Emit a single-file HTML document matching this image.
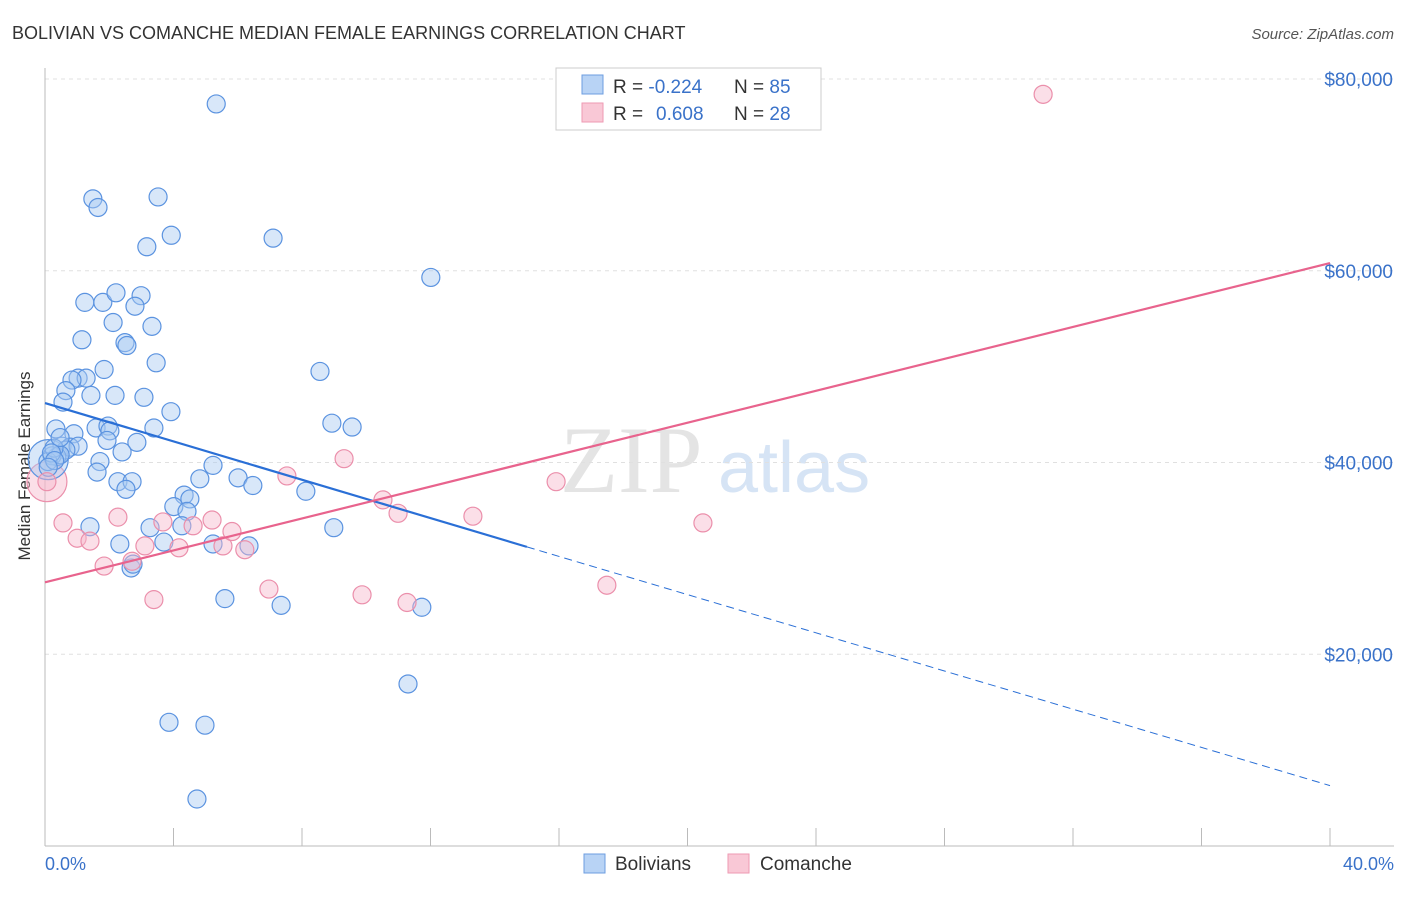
<!DOCTYPE html>
<html><head><meta charset="utf-8"><style>
body{margin:0;background:#fff;width:1406px;height:892px;overflow:hidden;font-family:"Liberation Sans",sans-serif}
</style></head><body>
<svg width="1406" height="892" xmlns="http://www.w3.org/2000/svg" font-family="Liberation Sans, sans-serif">
<text x="12" y="39" font-size="18" fill="#333">BOLIVIAN VS COMANCHE MEDIAN FEMALE EARNINGS CORRELATION CHART</text>
<text x="1394" y="39" font-size="15" fill="#555" font-style="italic" text-anchor="end">Source: ZipAtlas.com</text>
<text x="560" y="492" font-size="95" fill="#e4e4e4" font-family="Liberation Serif, serif">ZIP</text>
<text x="718" y="492" font-size="72" fill="#d6e4f5">atlas</text>
<g id="grid"></g>
<line x1="45" y1="68" x2="45" y2="846" stroke="#bbb"/>
<line x1="45" y1="846" x2="1394" y2="846" stroke="#bbb"/>
<g id="ticks"></g>
<text x="20" y="456" font-size="17" fill="#333" transform="rotate(-90 30 456)" text-anchor="middle">Median Female Earnings</text>
<text x="45" y="870" font-size="18" fill="#3a72c9">0.0%</text>
<text x="1394" y="870" font-size="18" fill="#3a72c9" text-anchor="end">40.0%</text>
<g id="pts"></g>
<g id="lines"></g>
<g>
<rect x="556" y="68" width="265" height="62" fill="#fff" stroke="#ccc"/>
<rect x="582" y="75" width="21" height="19" fill="#b8d3f5" stroke="#6d9ee0"/>
<rect x="582" y="103" width="21" height="19" fill="#f9c8d6" stroke="#ee9ab3"/>
<text x="613" y="93" font-size="19" fill="#333">R = <tspan fill="#3a72c9">-0.224</tspan><tspan x="734">N = </tspan><tspan fill="#3a72c9">85</tspan></text>
<text x="613" y="120" font-size="19" fill="#333">R = <tspan x="656" fill="#3a72c9">0.608</tspan><tspan x="734">N = </tspan><tspan fill="#3a72c9">28</tspan></text>
</g>
<g>
<rect x="584" y="854" width="21" height="19" fill="#b8d3f5" stroke="#6d9ee0"/>
<text x="615" y="870" font-size="19" fill="#333">Bolivians</text>
<rect x="728" y="854" width="21" height="19" fill="#f9c8d6" stroke="#ee9ab3"/>
<text x="760" y="870" font-size="19" fill="#333">Comanche</text>
</g>
</svg>
<script>
const yTicks=[20000,40000,60000,80000];
const yTickLabels=["$20,000","$40,000","$60,000","$80,000"];
const xTicks=[0,4,8,12,16,20,24,28,32,36,40];
const blueX=[5.33,1.49,1.65,3.52,3.93,3.17,7.10,12.01,1.24,1.80,2.21,2.99,2.80,2.12,3.33,1.15,2.49,2.55,3.46,1.84,8.56,1.03,1.28,0.84,0.65,1.43,2.18,3.08,0.56,3.92,0.34,1.59,1.96,2.02,3.39,8.93,9.56,0.90,1.93,2.86,0.53,0.78,1.03,0.65,2.40,0.37,1.71,0.22,0.47,0.09,1.62,5.23,2.27,2.71,6.01,2.52,6.47,4.82,4.33,4.51,8.12,4.01,4.42,3.27,4.26,8.99,1.40,3.70,5.23,6.35,2.33,2.68,2.74,5.60,7.35,11.73,11.30,3.86,4.98,4.73,0.28,0.47,0.2,0.3,0.1];
const blueY=[77400,67500,66600,67700,63700,62500,63400,59300,56700,56700,57700,57400,56300,54600,54200,52800,52500,52200,50400,49700,49500,48800,48800,48600,47500,47000,47000,46800,46300,45300,43500,43600,43800,43300,43600,44100,43700,43000,42300,42100,41700,41600,41700,41300,41100,40600,40100,40700,40800,40100,39000,39700,38000,38000,38400,37200,37600,38300,36600,36200,37000,35400,34900,33200,33400,33200,33300,31700,31500,31300,31500,29000,29400,25800,25100,24900,16900,12900,12600,4900,41500,42600,41000,40200,39500];
const pinkX=[31.07,0.56,1.00,1.40,2.27,1.84,3.67,3.11,4.17,4.61,5.20,5.54,5.82,6.22,3.39,7.53,6.97,9.31,9.87,10.52,10.99,11.27,13.32,15.91,17.49,20.48,0.06,2.71];
const pinkY=[78400,33700,32100,31800,34300,29200,33800,31300,31100,33400,34000,31300,32800,30900,25700,38600,26800,40400,26200,36100,34700,25400,34400,38000,27200,33700,38000,29700];
const bigBlue={x:0.1,y:40300},bigPink={x:0.06,y:38000};
const blueLine=[0,46200,15,31200,40,6300];
const pinkLine=[0,27500,40,60800];
const X=v=>45+v/40*1285, Y=v=>846-v/20000*191.75;
const NS="http://www.w3.org/2000/svg";
function mk(t,a,p){const e=document.createElementNS(NS,t);for(const k in a)e.setAttribute(k,a[k]);p.appendChild(e);return e;}
const grid=document.getElementById('grid'),ticks=document.getElementById('ticks'),pts=document.getElementById('pts'),lines=document.getElementById('lines');
yTicks.forEach((v,i)=>{
 const l=mk('line',{x1:45,x2:1394,y1:Y(v),y2:Y(v),stroke:'#e0e0e0','stroke-dasharray':'4 4'},grid);
 
 
 const t=mk('text',{x:1393,y:Y(v)+7,'font-size':19,fill:'#3a72c9','text-anchor':'end'},ticks);
 t.textContent=yTickLabels[i];
 
 
});
xTicks.forEach(v=>{
 const l=mk('line',{x1:X(v),x2:X(v),y1:828,y2:846,stroke:'#bbb'},ticks);
 
 
});
function dot(x,y,r,fill,stroke,name){
 const c=mk('circle',{cx:X(x),cy:Y(y),r:r,fill:fill,'fill-opacity':0.45,stroke:stroke,'stroke-width':1.2},pts);
 
 
}
dot(bigPink.x,bigPink.y,20,'#f7b9cb','#eb8fab','comanche-point');
dot(bigBlue.x,bigBlue.y,20,'#a9c9f2','#5b93e0','bolivian-point');
blueX.forEach((x,i)=>dot(x,blueY[i],9,'#a9c9f2','#5b93e0','bolivian-point'));
pinkX.forEach((x,i)=>dot(x,pinkY[i],9,'#f7b9cb','#eb8fab','comanche-point'));
let l1=mk('line',{x1:X(blueLine[0]),y1:Y(blueLine[1]),x2:X(blueLine[2]),y2:Y(blueLine[3]),stroke:'#2a6fd6','stroke-width':2.2},lines);


let l2=mk('line',{x1:X(blueLine[2]),y1:Y(blueLine[3]),x2:X(blueLine[4]),y2:Y(blueLine[5]),stroke:'#2a6fd6','stroke-width':1,'stroke-dasharray':'8 5'},lines);


let l3=mk('line',{x1:X(pinkLine[0]),y1:Y(pinkLine[1]),x2:X(pinkLine[2]),y2:Y(pinkLine[3]),stroke:'#e8638d','stroke-width':2.2},lines);


</script>
</body></html>
